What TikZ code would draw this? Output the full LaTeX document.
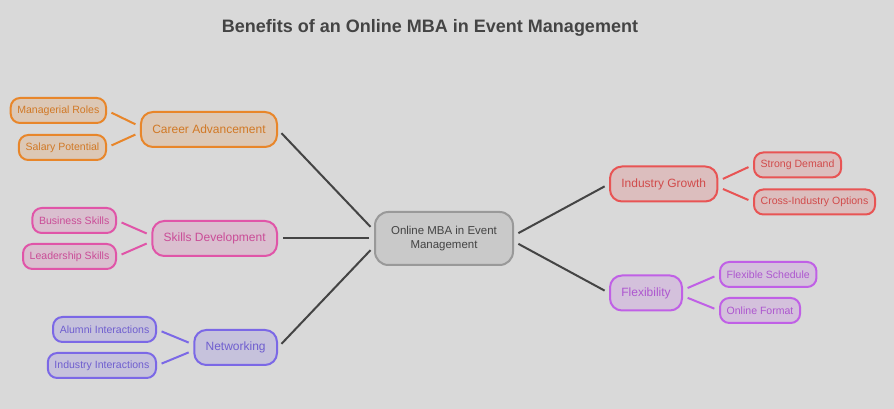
\documentclass[tikz,border=0pt]{standalone}
\usepackage{fontspec}
\setmainfont{Liberation Sans}
\definecolor{bgcol}{HTML}{D9D9D9}
\definecolor{titlecol}{HTML}{444444}
\definecolor{rootcol}{HTML}{999999}
\definecolor{careercol}{HTML}{E8862A}
\definecolor{skillcol}{HTML}{E055A8}
\definecolor{netcol}{HTML}{7B68E6}
\definecolor{growthcol}{HTML}{E85454}
\definecolor{flexcol}{HTML}{C060E6}
\begin{document}
\begin{tikzpicture}[x=0.75pt,y=-0.75pt,
	rootbox/.style={draw=rootcol,fill=rootcol!25!bgcol,line width=1.5pt,rounded corners=10pt,
		minimum width=103.5pt,minimum height=39.75pt,align=center,text=titlecol,font=\fontsize{8.6}{11}\selectfont},
	branchbox/.style={draw=#1,fill=#1!20!bgcol,line width=1.5pt,rounded corners=9pt,
		minimum height=26.25pt,inner xsep=8.5pt,text=#1!90!black,font=\fontsize{9}{11}\selectfont},
	leafbox/.style={draw=#1,fill=#1!20!bgcol,line width=1.5pt,rounded corners=7pt,
		minimum height=18.75pt,inner xsep=5pt,text=#1!90!black,font=\fontsize{7.9}{9}\selectfont},
	trunk/.style={draw=titlecol,line width=1.5pt,shorten <=3.75pt,shorten >=3.75pt},
	twig/.style={draw=#1,line width=1.5pt,shorten <=3.75pt,shorten >=3.75pt}]
	\useasboundingbox[fill=bgcol] (0,0) rectangle (894,409);
	\node[font=\bfseries\fontsize{13.5}{16}\selectfont,text=titlecol] (title) at (430,28) {Benefits of an Online MBA in Event Management};
	\node[rootbox] (root) at (444,238.5) {Online MBA in Event\\Management};
	% left side
	\node[branchbox=careercol,anchor=east] (career) at (278,129.5) {Career Advancement};
	\node[leafbox=careercol,anchor=east] (managerial) at (107,110.5) {Managerial Roles};
	\node[leafbox=careercol,anchor=east] (salary) at (107,147.5) {Salary Potential};
	\node[branchbox=skillcol,anchor=east] (skills) at (278,238.5) {Skills Development};
	\node[leafbox=skillcol,anchor=east] (business) at (117,220.5) {Business Skills};
	\node[leafbox=skillcol,anchor=east] (leadership) at (117,256.5) {Leadership Skills};
	\node[branchbox=netcol,anchor=east] (networking) at (278,347.5) {Networking};
	\node[leafbox=netcol,anchor=east] (alumni) at (157,329.5) {Alumni Interactions};
	\node[leafbox=netcol,anchor=east] (industryint) at (157,365.5) {Industry Interactions};
	% right side
	\node[branchbox=growthcol,anchor=west] (growth) at (609,184) {Industry Growth};
	\node[leafbox=growthcol,anchor=west] (demand) at (753,165) {Strong Demand};
	\node[leafbox=growthcol,anchor=west] (cross) at (753,202) {Cross-Industry Options};
	\node[branchbox=flexcol,anchor=west] (flex) at (609,293) {Flexibility};
	\node[leafbox=flexcol,anchor=west] (schedule) at (719,274.5) {Flexible Schedule};
	\node[leafbox=flexcol,anchor=west] (format) at (719,310.5) {Online Format};
	% trunk lines
	\draw[trunk] ([yshift=6pt]root.west) -- (career.east);
	\draw[trunk] (root.west) -- (skills.east);
	\draw[trunk] ([yshift=-6pt]root.west) -- (networking.east);
	\draw[trunk] ([yshift=2.25pt]root.east) -- (growth.west);
	\draw[trunk] ([yshift=-2.25pt]root.east) -- (flex.west);
	% twigs
	\draw[twig=careercol] ([yshift=2.25pt]career.west) -- (managerial.east);
	\draw[twig=careercol] ([yshift=-2.25pt]career.west) -- (salary.east);
	\draw[twig=skillcol] ([yshift=2.25pt]skills.west) -- (business.east);
	\draw[twig=skillcol] ([yshift=-2.25pt]skills.west) -- (leadership.east);
	\draw[twig=netcol] ([yshift=2.25pt]networking.west) -- (alumni.east);
	\draw[twig=netcol] ([yshift=-2.25pt]networking.west) -- (industryint.east);
	\draw[twig=growthcol] ([yshift=2.25pt]growth.east) -- (demand.west);
	\draw[twig=growthcol] ([yshift=-2.25pt]growth.east) -- (cross.west);
	\draw[twig=flexcol] ([yshift=2.25pt]flex.east) -- (schedule.west);
	\draw[twig=flexcol] ([yshift=-2.25pt]flex.east) -- (format.west);
\end{tikzpicture}
\end{document}
